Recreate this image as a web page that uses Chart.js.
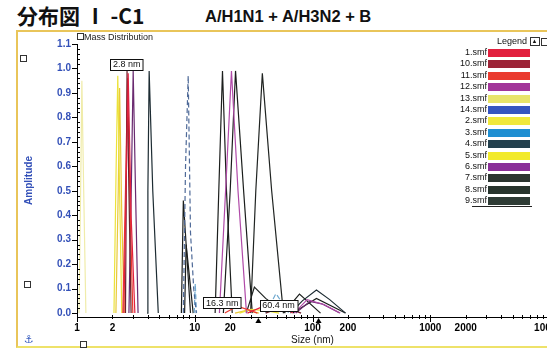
<!DOCTYPE html>
<html>
<head>
<meta charset="utf-8">
<script src="https://cdn.jsdelivr.net/npm/chart.js@4.4.1/dist/chart.umd.min.js"></script>
<style>
  html,body{margin:0;padding:0;background:#fff;}
  body{width:547px;height:351px;overflow:hidden;position:relative;font-family:"Liberation Sans",Arial,sans-serif;}
  #title{position:absolute;left:17px;top:0px;font:bold 21px "Noto Sans CJK JP",sans-serif;color:#111;white-space:nowrap;}
  #sub{position:absolute;left:205px;top:7px;font:bold 16.5px "Liberation Sans",Arial,sans-serif;color:#111;white-space:nowrap;}
  #frame{position:absolute;left:16px;top:30px;width:620px;height:314px;border:2px solid #e9c55a;border-bottom-color:#eee26a;}
  #c{position:absolute;left:0;top:0;}
  #md{position:absolute;left:84px;top:32px;font:9px "Liberation Sans",Arial,sans-serif;color:#222;white-space:nowrap;}
  .ico{position:absolute;width:5px;height:5px;border:1px solid #333;background:#fff;}
  #legend{position:absolute;left:0;top:0;width:547px;height:351px;pointer-events:none;}
  .lrow{position:absolute;height:11px;font:9px "Liberation Sans",Arial,sans-serif;color:#111;}
  .ltxt{position:absolute;right:0;top:0;white-space:nowrap;}
  .lsw{position:absolute;height:8px;width:42px;}
</style>
</head>
<body>
<div id="frame"></div>
<div id="title">分布図 Ⅰ -C1</div>
<div id="sub">A/H1N1 + A/H3N2 + B</div>
<canvas id="c" width="600" height="351"></canvas>
<div id="md">Mass Distribution</div>
<div class="ico" style="left:77px;top:33px;"></div>
<div class="ico" style="left:20px;top:55px;"></div>
<div class="ico" style="left:24px;top:281px;"></div>
<div class="ico" style="left:80px;top:341px;"></div>
<div style="position:absolute;left:24px;top:333px;font:bold 11px 'DejaVu Sans';color:#3a5fc0;">⚓</div>
<div id="legend"></div>
<script>
// ---------- data ----------
const xTickValues = [1, 2, 10, 20, 100, 200, 1000, 2000, 10000];
const yTickValues = [0, 0.1, 0.2, 0.3, 0.4, 0.5, 0.6, 0.7, 0.8, 0.9, 1.0, 1.1];
const seriesNames = ['1.smf','10.smf','11.smf','12.smf','13.smf','14.smf','2.smf','3.smf','4.smf','5.smf','6.smf','7.smf','8.smf','9.smf'];
const seriesColors = ['#e2203e','#9c2437','#ea3b2f','#a2359a','#e8e46a','#3555c0','#efe83c','#1f8fd2','#23404d','#f2ea2a','#8a2f98','#2b3530','#27342d','#2e3b35'];
const lineColors   = ['#e2203e','#6a1e2a','#ea3b2f','#b04aa8','#f0ecaa','#4f6a98','#ece23a','#6fa8cf','#1d2c33','#e8c83a','#6a2a70','#1c1f1d','#1a1d1b','#202422'];

const s1  = [[2.5,0],[2.62,0.55],[2.72,0.98],[2.88,0.4],[3.1,0],[10,null],[28,0],[36,0.022],[46,0.012],[56,0.024],[68,0]];
const s10 = [[2.58,0],[2.63,0.6],[2.66,0.99],[2.76,0.5],[2.88,0],[10,null],[40,0],[50,0.018],[62,0.02],[80,0]];
const s11 = [[2.45,0],[2.58,0.5],[2.69,0.96],[2.82,0.45],[2.98,0],[10,null],[18,0],[23,0.028],[29,0.012],[34,0]];
const s12 = [[16.2,0],[18.5,0.55],[20.5,0.99],[23.3,0.5],[27.5,0],[50,null],[70,0],[90,0.055],[125,0.035],[172,0]];
const s13 = [[1.04,0],[1.08,0.6],[1.1,0.95],[1.14,0.5],[1.19,0]];
const s14 = [[8.0,0],[8.35,0.6],[8.8,0.97],[9.2,0.33],[9.8,0.1],[10.3,0]];
const s2  = [[2.06,0],[2.15,0.6],[2.22,0.97],[2.3,0.5],[2.4,0],[10,null],[24,0],[30,0.015],[40,0.01],[52,0]];
const s3  = [[9.9,0],[10.1,0.12],[10.35,0],[20,null],[40,0],[49,0.08],[63,0]];
const s4  = [[3.94,0],[4.0,0.5],[4.1,0.99],[4.4,0.5],[4.9,0],[20,null],[65,0],[82,0.05],[108,0.094],[140,0.055],[191,0]];
const s5  = [[2.14,0],[2.24,0.5],[2.3,0.92],[2.4,0.4],[2.52,0],[10,null],[22,0],[28,0.012],[35,0]];
const s6  = [[2.76,0],[2.9,0.55],[3.0,0.99],[3.14,0.5],[3.3,0],[20,null],[72,0],[95,0.048],[120,0.038],[170,0]];
const s7  = [[7.7,0],[8.0,0.46],[9.2,0],[12,null],[14.9,0],[16,0.5],[17.2,0.99],[18.6,0.5],[20.8,0],[40,null],[56.6,0],[77.5,0.078],[117,0]];
const s8  = [[8.2,0],[8.45,0.28],[9.7,0],[12,null],[17.5,0],[20,0.5],[22.2,0.99],[26,0.5],[30.8,0],[50,null],[68,0],[108,0.06],[190,0]];
const s9  = [[27.4,0],[32.1,0.106],[40,0.06],[58.9,0],[60,null],[29.8,0],[33,0.5],[37.5,0.98],[45,0.5],[56.6,0]];
const seriesData = [s1,s10,s11,s12,s13,s14,s2,s3,s4,s5,s6,s7,s8,s9];
const dashedSeries = ['14.smf','3.smf'];

const annotLabels = ['2.8 nm','16.3 nm','60.4 nm'];
const annotSizes  = [2.64, 17.1, 51.4];
const annotAmps   = [1.018, 0.043, 0.033];
const markerSizes = [34.7, 112.6];

// ---------- chart ----------
Chart.defaults.font.family = '"Liberation Sans", Arial, sans-serif';

const datasets = seriesNames.map((n, i) => ({
  label: n,
  data: seriesData[i],
  borderColor: lineColors[i],
  backgroundColor: seriesColors[i],
  borderWidth: 1.2,
  pointRadius: 0,
  tension: 0,
  spanGaps: false,
  fill: false,
  borderDash: dashedSeries.includes(n) ? [5, 3] : []
}));

const decor = {
  id: 'decor',
  afterDatasetsDraw(chart) {
    const {ctx, scales: {x, y}, chartArea: a} = chart;
    ctx.save();
    ctx.strokeStyle = '#000';
    ctx.lineWidth = 1;
    for (let i = 0; i <= 55; i++) {
      const py = Math.round(y.getPixelForValue(i * 0.02)) + 0.5;
      ctx.beginPath();
      if (i % 5 === 0) { ctx.moveTo(a.left - 5, py); ctx.lineTo(a.left, py); }
      else { ctx.moveTo(a.left, py); ctx.lineTo(a.left + 3, py); }
      ctx.stroke();
    }
    for (let d = 1; d <= 10000; d *= 10) {
      for (let k = 1; k <= 9; k++) {
        const v = d * k;
        if (v > 10000) break;
        const px = Math.round(x.getPixelForValue(v)) + 0.5;
        ctx.beginPath();
        if (k === 1) { ctx.moveTo(px, a.bottom - 2); ctx.lineTo(px, a.bottom + 5); }
        else { ctx.moveTo(px, a.bottom - 2); ctx.lineTo(px, a.bottom + 2); }
        ctx.stroke();
      }
    }
    ctx.fillStyle = '#000';
    markerSizes.forEach(v => {
      const px = x.getPixelForValue(v);
      ctx.beginPath();
      ctx.moveTo(px, a.bottom + 1);
      ctx.lineTo(px - 3, a.bottom + 6);
      ctx.lineTo(px + 3, a.bottom + 6);
      ctx.closePath();
      ctx.fill();
    });
    ctx.font = '9px "Liberation Sans", Arial, sans-serif';
    ctx.textAlign = 'center';
    ctx.textBaseline = 'middle';
    annotLabels.forEach((t, i) => {
      const cx = x.getPixelForValue(annotSizes[i]);
      const cy = y.getPixelForValue(annotAmps[i]);
      const w = ctx.measureText(t).width + 5;
      const h = 11;
      const l = Math.round(cx - w / 2) + 0.5, tp = Math.round(cy - h / 2) + 0.5;
      ctx.fillStyle = '#fff';
      ctx.fillRect(l, tp, w, h);
      ctx.strokeStyle = '#111';
      ctx.strokeRect(l, tp, w, h);
      ctx.fillStyle = '#111';
      ctx.fillText(t, cx, cy + 0.5);
    });
    ctx.restore();
  }
};

const chart = new Chart(document.getElementById('c'), {
  type: 'line',
  data: { datasets },
  options: {
    responsive: false,
    animation: false,
    devicePixelRatio: 1,
    layout: { padding: { top: 44, right: 52, bottom: 0, left: 0 } },
    plugins: { legend: { display: false }, tooltip: { enabled: false } },
    scales: {
      x: {
        type: 'logarithmic',
        min: 1, max: 10000,
        grid: { display: false, drawTicks: false },
        border: { display: true, color: '#000', width: 1 },
        afterBuildTicks: s => { s.ticks = xTickValues.map(v => ({ value: v })); },
        afterFit: s => { s.height = 34; },
        ticks: {
          autoSkip: false, maxRotation: 0, padding: 5,
          color: '#000', font: { size: 10, weight: 'bold' },
          callback: v => String(v)
        },
        title: { display: true, text: 'Size (nm)', color: '#111', font: { size: 10 }, padding: { top: 0, bottom: 5 } }
      },
      y: {
        type: 'linear',
        min: -0.016, max: 1.1,
        grid: { display: false, drawTicks: false },
        border: { display: true, color: '#000', width: 1 },
        afterBuildTicks: s => { s.ticks = yTickValues.map(v => ({ value: v })); },
        afterFit: s => { s.width = 77; },
        ticks: {
          padding: 6, color: '#3350b8', font: { size: 10, weight: 'bold' },
          callback: v => Number(v).toFixed(1)
        },
        title: { display: true, text: 'Amplitude', color: '#3350b8', font: { size: 10, weight: 'bold' }, padding: { top: 23, bottom: 0 } }
      }
    }
  },
  plugins: [decor]
});

// ---------- HTML legend built from the chart's datasets ----------
const lg = document.getElementById('legend');
const head = document.createElement('div');
head.style.cssText = 'position:absolute;left:497px;top:36px;font:9px "Liberation Sans",Arial,sans-serif;color:#111;white-space:nowrap;';
head.innerHTML = 'Legend <span style="display:inline-block;border:1px solid #333;font-size:6px;line-height:7px;padding:0 1px;vertical-align:middle;">▲</span><span style="display:inline-block;border:1px solid #333;width:6px;height:6px;margin-left:1px;vertical-align:middle;"></span>';
lg.appendChild(head);
chart.data.datasets.forEach((ds, i) => {
  const row = document.createElement('div');
  row.className = 'lrow';
  row.style.left = '440px';
  row.style.width = '92px';
  row.style.top = (47 + i * 11.4) + 'px';
  const t = document.createElement('div');
  t.className = 'ltxt';
  t.style.right = '45px';
  t.textContent = ds.label;
  const sw = document.createElement('div');
  sw.className = 'lsw';
  sw.style.left = '48px';
  sw.style.top = '2px';
  sw.style.background = ds.backgroundColor;
  row.appendChild(t);
  row.appendChild(sw);
  if (i === chart.data.datasets.length - 1) {
    row.style.borderBottom = '1px solid #222';
    row.style.left = '472px';
    row.style.width = '60px';
    t.style.right = '45px';
    sw.style.left = '16px';
  }
  lg.appendChild(row);
});
</script>
</body>
</html>
